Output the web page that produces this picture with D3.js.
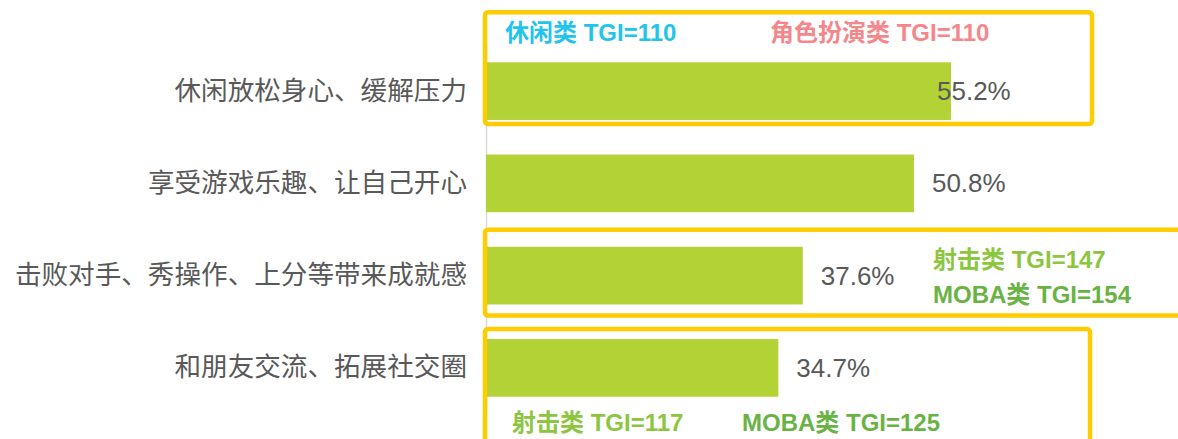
<!DOCTYPE html>
<html><head><meta charset="utf-8">
<script src="https://cdn.jsdelivr.net/npm/d3@7"></script>
<style>html,body{margin:0;padding:0;background:#fff;}svg{display:block;}</style>
</head><body>
<svg id="c" width="1178" height="439"></svg>
<script>
const categories = ["休闲放松身心、缓解压力","享受游戏乐趣、让自己开心","击败对手、秀操作、上分等带来成就感","和朋友交流、拓展社交圈"];
const values = [55.2, 50.8, 37.6, 34.7];
const noteTexts = ["休闲类 TGI=110","角色扮演类 TGI=110","射击类 TGI=147","MOBA类 TGI=154","射击类 TGI=117","MOBA类 TGI=125"];
const noteColors = ["#22C4EE","#F5878B","#8CC63F","#69B344","#8CC63F","#69B344"];

const svg = d3.select("#c");
const x = d3.scaleLinear().domain([0, 60]).range([486, 486 + 60 * 465 / 55.2]);
const y = d3.scaleBand().domain(categories).range([45, 414]).paddingInner(0.375).paddingOuter(0.1875);
const bw = y.bandwidth();

// axis
const ax = svg.append("g").attr("transform", `translate(${x(0)},0)`)
  .call(d3.axisLeft(y).tickSize(0).tickSizeOuter(0).tickPadding(19));
ax.select(".domain").attr("stroke", "#D9D9D9").attr("stroke-width", 1.5);
ax.selectAll("text").attr("fill", "#595959").attr("font-size", "26.6px")
  .attr("font-family", "'Noto Sans CJK SC', sans-serif");

// bars
svg.append("g").selectAll("rect").data(values).join("rect")
  .attr("x", x(0)).attr("y", (d, i) => y(categories[i]))
  .attr("width", d => x(d) - x(0)).attr("height", bw).attr("fill", "#B2D235");

// value labels
svg.append("g").selectAll("text").data(values).join("text")
  .attr("x", d => Math.min(x(d) + 18, x(55.2) - 14))
  .attr("y", (d, i) => y(categories[i]) + bw / 2)
  .attr("dominant-baseline", "central")
  .attr("font-family", "'Liberation Sans', Arial, sans-serif")
  .attr("font-size", "26px").attr("fill", "#595959")
  .text(d => d.toFixed(1) + "%");

// highlight boxes
const boxes = [
  {x0: x(0) - 1, x1: 1092, y0: y(categories[0]) - 50, y1: y(categories[0]) + bw + 4},
  {x0: x(0) - 1, x1: 1200, y0: y(categories[2]) - 17, y1: y(categories[2]) + bw + 11},
  {x0: x(0) - 1, x1: 1090, y0: y(categories[3]) - 10, y1: 460}
];
svg.append("g").selectAll("rect").data(boxes).join("rect")
  .attr("x", d => d.x0).attr("y", d => d.y0)
  .attr("width", d => d.x1 - d.x0).attr("height", d => d.y1 - d.y0)
  .attr("rx", 3).attr("fill", "none").attr("stroke", "#FFCC00").attr("stroke-width", 4.5);

// TGI notes
const notePos = [
  {x: 505, y: y(categories[0]) - 30},
  {x: 770, y: y(categories[0]) - 30},
  {x: 933, y: y(categories[2]) + 13},
  {x: 933, y: y(categories[2]) + 48},
  {x: 512, y: y(categories[3]) + bw + 26},
  {x: 742, y: y(categories[3]) + bw + 26}
];
svg.append("g").selectAll("text").data(noteTexts).join("text")
  .attr("x", (d, i) => notePos[i].x).attr("y", (d, i) => notePos[i].y)
  .attr("dominant-baseline", "central")
  .attr("font-family", "'Liberation Sans', Arial, 'Noto Sans CJK SC', sans-serif")
  .attr("font-weight", "bold").attr("font-size", "24px")
  .attr("fill", (d, i) => noteColors[i])
  .text(d => d);
</script>
</body></html>
